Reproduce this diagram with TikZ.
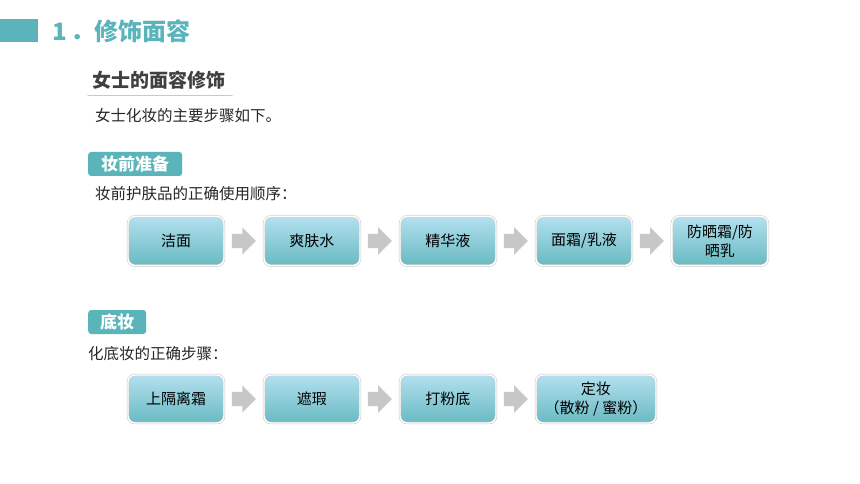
\documentclass[tikz,border=0pt]{standalone}
\usepackage{fontspec}
\setmainfont{Noto Sans CJK SC}
\usetikzlibrary{positioning,shapes.arrows,shadows}
\definecolor{qing}{HTML}{5AB4BA}
\definecolor{qianqing}{HTML}{A6D8DB}
\definecolor{boxtop}{HTML}{B3E0F0}
\definecolor{boxbot}{HTML}{68BAC1}
\definecolor{shen}{HTML}{404040}
\tikzset{
  stepbox/.style={rounded corners=7pt, minimum width=96pt, minimum height=48pt,
    top color=boxtop, bottom color=boxbot, draw=black!22, line width=0.5pt,
    double=white, double distance=1.4pt,
    drop shadow={shadow xshift=0.6pt, shadow yshift=-0.8pt, opacity=0.3},
    font=\fontsize{15}{19}\selectfont, align=center, inner sep=3pt},
  jt/.style={single arrow, fill=black!22, draw=none, minimum height=24pt,
    inner xsep=0pt, inner ysep=7pt, single arrow head extend=6.5pt},
  tag/.style={fill=qing, rounded corners=3pt, text=white, inner sep=0pt,
    minimum height=24pt, font=\bfseries\fontsize{17}{20}\selectfont},
  wen/.style={anchor=west, inner sep=0pt, text=black!85, font=\fontsize{15.5}{18}\selectfont}
}
\begin{document}
\begin{tikzpicture}[x=1pt, y=1pt, line join=round, line cap=round, node distance=7.5pt]
	\useasboundingbox (0,0) rectangle (860,-484);
	% biao ti
	\fill[qing] (0,-19) rectangle (38,-42);
	\node[anchor=west, inner sep=0pt, text=qing, font=\bfseries\fontsize{24}{28}\selectfont] (biaoti) at (52,-31) {1\,．修饰面容};
	\node[anchor=west, inner sep=0pt, text=shen, font=\bfseries\fontsize{19}{22}\selectfont] (xiaobiao) at (92,-80) {女士的面容修饰};
	\draw[qianqing, line width=1.5pt] (xiaobiao.south west) ++(-4,-6) coordinate (xa) -- ++(144,0) coordinate (xb);
	\node[wen] (shuoming) at (95,-116) {女士化妆的主要步骤如下。};
	% zhuang qian
	\node[tag, minimum width=94pt, anchor=west] (tag1) at (88,-164) {妆前准备};
	\node[wen] (shunxu) at (95,-194) {妆前护肤品的正确使用顺序：};
	\node[stepbox, minimum height=49pt] (a1) at (176,-241) {洁面};
	\node[jt, right=of a1] (j1) {};
	\node[stepbox, minimum height=49pt, right=of j1] (a2) {爽肤水};
	\node[jt, right=of a2] (j2) {};
	\node[stepbox, minimum height=49pt, right=of j2] (a3) {精华液};
	\node[jt, right=of a3] (j3) {};
	\node[stepbox, minimum height=49pt, right=of j3] (a4) {面霜/乳液};
	\node[jt, right=of a4] (j4) {};
	\node[stepbox, minimum height=49pt, right=of j4] (a5) {防晒霜/防\\晒乳};
	% di zhuang
	\node[tag, minimum width=58pt, anchor=west] (tag2) at (88,-322) {底妆};
	\node[wen] (buzhou) at (88,-354) {化底妆的正确步骤：};
	\node[stepbox] (b1) at (176,-399) {上隔离霜};
	\node[jt, right=of b1] (k1) {};
	\node[stepbox, right=of k1] (b2) {遮瑕};
	\node[jt, right=of b2] (k2) {};
	\node[stepbox, right=of k2] (b3) {打粉底};
	\node[jt, right=of b3] (k3) {};
	\node[stepbox, minimum width=120pt, right=of k3] (b4) {定妆\\（散粉 / 蜜粉）};
\end{tikzpicture}
\end{document}
